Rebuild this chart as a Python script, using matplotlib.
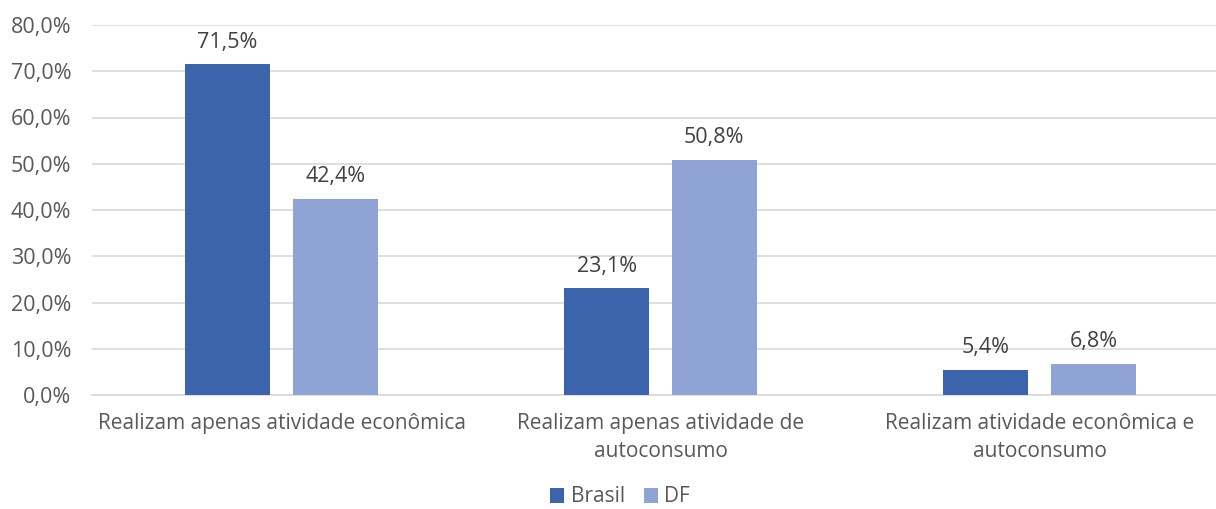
import matplotlib.pyplot as plt
import numpy as np

# Data
categories = ['Realizam apenas atividade econômica',
              'Realizam apenas atividade de\nautoconsumo',
              'Realizam atividade econômica e\nautoconsumo']
brasil = [71.5, 23.1, 5.4]
df_vals = [42.4, 50.8, 6.8]
series_names = ['Brasil', 'DF']
colors = ['#3C64AC', '#8FA4D4']

plt.rcParams['font.family'] = ['Open Sans', 'DejaVu Sans']
text_color = '#595959'

fig = plt.figure(figsize=(12.16, 5.09), dpi=100)
ax = fig.add_axes([92 / 1216, 114 / 509, 1124 / 1216, 370 / 509])

x = np.arange(len(categories))
w = 0.224
off = 0.142
b1 = ax.bar(x - off, brasil, w, color=colors[0], label=series_names[0], zorder=3)
b2 = ax.bar(x + off, df_vals, w, color=colors[1], label=series_names[1], zorder=3)

for bars, vals in [(b1, brasil), (b2, df_vals)]:
    for rect, v in zip(bars, vals):
        ax.text(rect.get_x() + rect.get_width() / 2, v + 2.5,
                f'{v:.1f}%'.replace('.', ','), ha='center', va='bottom',
                fontsize=15.5, color='#404040')

ax.set_ylim(0, 80)
ax.set_xlim(-0.5, -0.5 + 1124 / 379)
ax.set_yticks(np.arange(0, 81, 10))
ax.set_yticklabels([f'{t:.1f}%'.replace('.', ',') for t in np.arange(0, 81, 10)])
ax.set_xticks(x)
ax.set_xticklabels(categories, linespacing=1.45)
ax.tick_params(axis='y', length=0, labelsize=15.5, colors=text_color, pad=15)
ax.tick_params(axis='x', length=0, labelsize=15, colors=text_color, pad=13)
ax.grid(axis='y', color='#D9D9D9', linewidth=1.2, zorder=0)
for s in ['top', 'right', 'left']:
    ax.spines[s].set_visible(False)
ax.spines['bottom'].set_color('#D9D9D9')
ax.spines['bottom'].set_linewidth(1.2)

leg = fig.legend(loc='center', bbox_to_anchor=(620 / 1216, 1 - 497 / 509), ncol=2,
                 frameon=False, fontsize=15, handlelength=0.7, handleheight=0.7,
                 handletextpad=0.3, columnspacing=0.9)
for t in leg.get_texts():
    t.set_color(text_color)

fig.savefig('out.png', dpi=100)
